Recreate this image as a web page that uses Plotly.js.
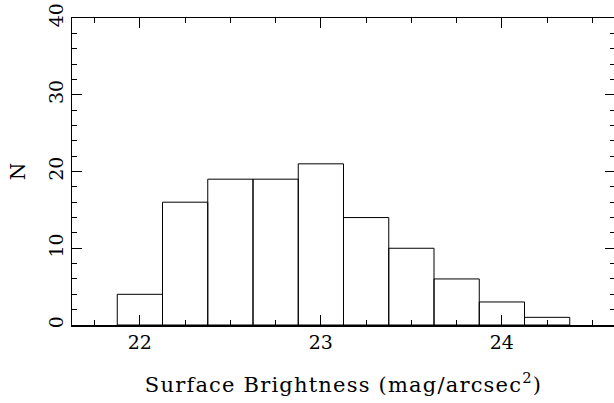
<!DOCTYPE html>
<html><head><meta charset="utf-8">
<script src="https://cdn.plot.ly/plotly-3.0.1.min.js"></script>
<style>html,body{margin:0;padding:0;overflow:hidden;background:#fff}
.xtitle{letter-spacing:1.2px}</style>
</head><body><div id="chart" style="width:615px;height:403px"></div>
<script>
const binCenters = [22.0, 22.25, 22.5, 22.75, 23.0, 23.25, 23.5, 23.75, 24.0, 24.25];
const counts = [4, 16, 19, 19, 21, 14, 10, 6, 3, 1];
const xTickVals = [22, 23, 24];
const yTickVals = [0, 10, 20, 30, 40];

const fontFam = '"DejaVu Serif", serif';
const trace = {
  type: 'bar', x: binCenters, y: counts, width: 0.25,
  marker: {color: 'rgba(255,255,255,0)', line: {color: '#000', width: 1}},
  hoverinfo: 'none'
};
const axisCommon = {
  showline: true, linecolor: '#000', linewidth: 1.5, mirror: 'allticks',
  ticks: 'inside', ticklen: 10, tickwidth: 1.2, tickcolor: '#000',
  showgrid: false, zeroline: false,
  tickfont: {family: fontFam, size: 19, color: '#000'}
};
const layout = {
  width: 615, height: 403,
  margin: {l: 72, r: 0, t: 18, b: 78},
  paper_bgcolor: '#fff', plot_bgcolor: '#fff',
  showlegend: false, bargap: 0,
  xaxis: Object.assign({}, axisCommon, {
    range: [21.625, 24.625], tickvals: xTickVals, ticktext: xTickVals.map(String),
    minor: {dtick: 0.25, tick0: 0, ticks: 'inside', ticklen: 5, tickwidth: 1, tickcolor: '#000', showgrid: false},
    title: {text: 'Surface Brightness (mag/arcsec<sup>2</sup>)', font: {family: fontFam, size: 21, color: '#000'}, standoff: 25}
  }),
  yaxis: Object.assign({}, axisCommon, {
    range: [0, 40], tickvals: yTickVals, ticktext: yTickVals.map(String), tickangle: -90,
    minor: {dtick: 2, tick0: 0, ticks: 'inside', ticklen: 5, tickwidth: 1, tickcolor: '#000', showgrid: false},
    title: {text: 'N', font: {family: fontFam, size: 20, color: '#000'}, standoff: 14}
  })
};
Plotly.newPlot('chart', [trace], layout, {displayModeBar: false, staticPlot: true});
</script></body></html>
